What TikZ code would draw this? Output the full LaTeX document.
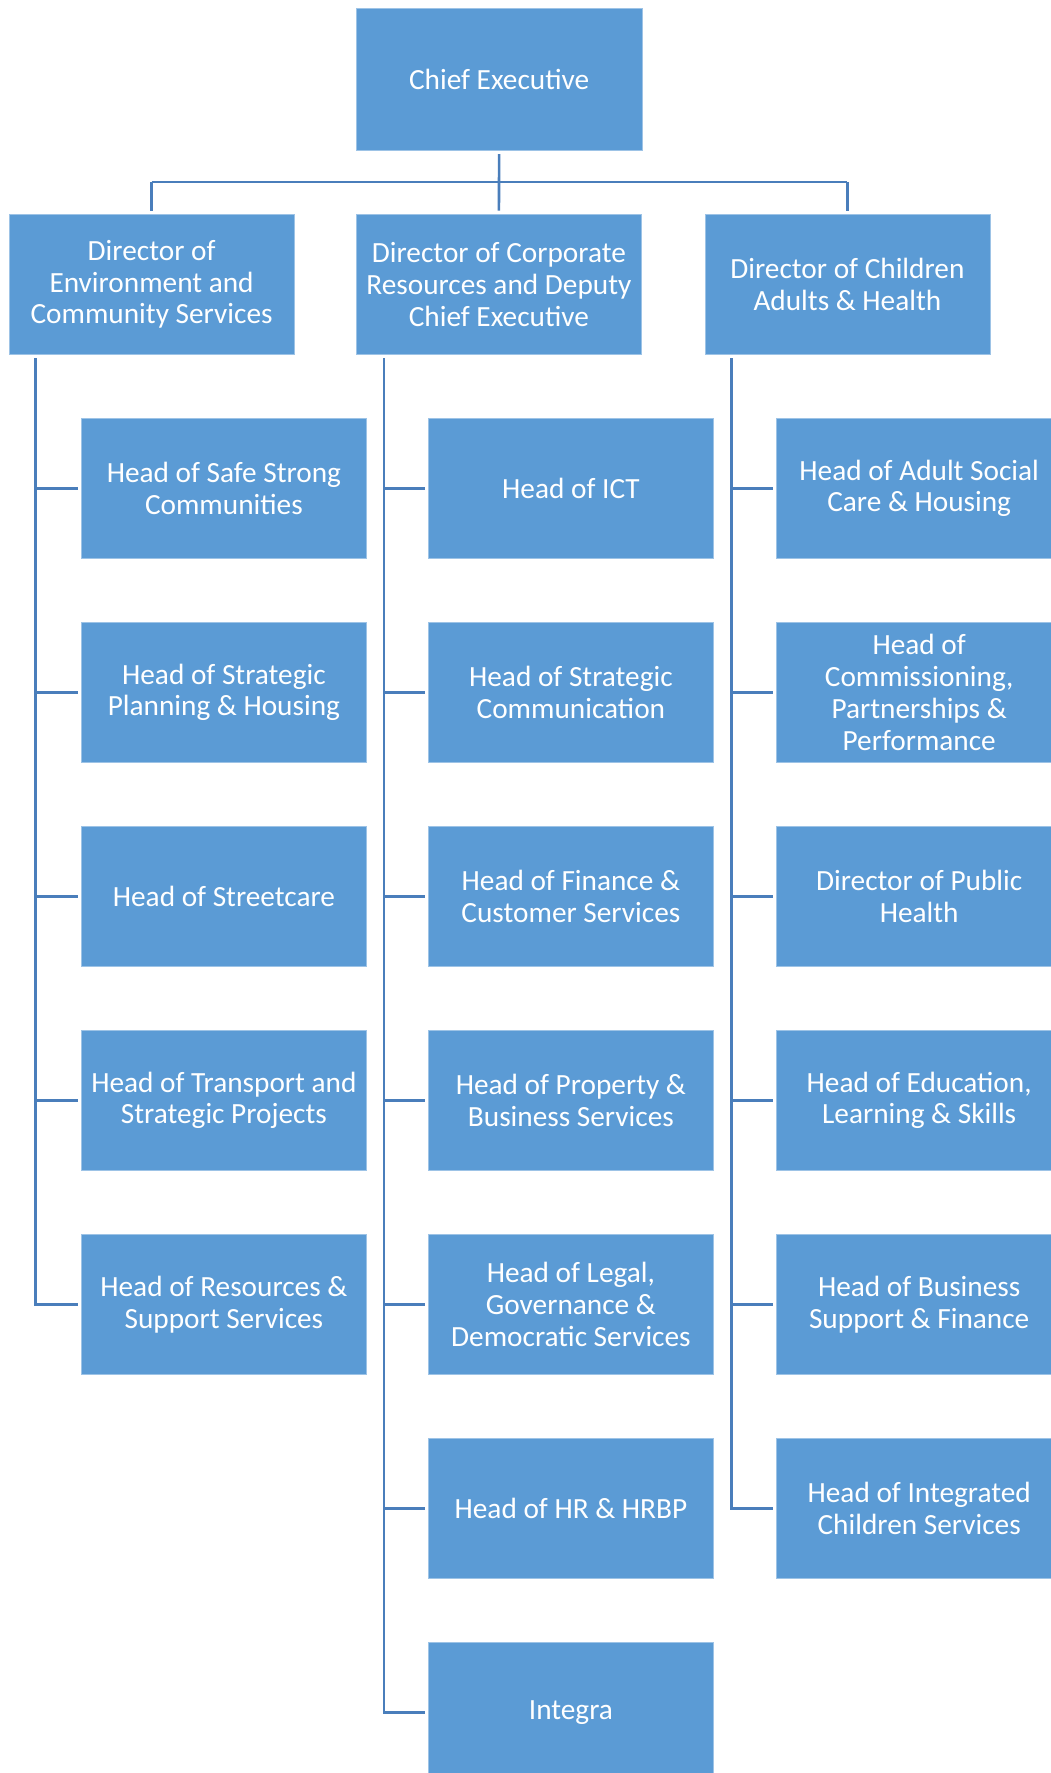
\documentclass[tikz,border=0pt]{standalone}
\usepackage{fontspec}
\setmainfont{Carlito}
\definecolor{boxfill}{HTML}{5B9BD5}
\definecolor{boxedge}{HTML}{9DC3E6}
\definecolor{linec}{HTML}{4A7EBB}
\begin{document}
\begin{tikzpicture}[x=1pt,y=-1pt,
  orgbox/.style={rectangle, anchor=north west, fill=boxfill, draw=boxedge, line width=0.8pt,
    minimum width=285pt, minimum height=140.6pt, inner sep=0pt, align=center,
    text=white, font=\fontsize{29.3}{31.8}\selectfont},
  conn/.style={draw=linec, line width=2.6pt}]
\clip (0,0) rectangle (1051,1773);
\fill[white] (0,0) rectangle (1051,1773);

% top
\node[orgbox, minimum width=285.5pt, minimum height=142pt] (ce) at (356,8.3) {Chief Executive};

% directors
\node[orgbox] (d1) at (8.7,213.7) {Director of\\Environment and\\Community Services};
\node[orgbox] (d2) at (356,213.7) {Director of Corporate\\Resources and Deputy\\Chief Executive};
\node[orgbox] (d3) at (704.5,213.7) {Director of Children\\Adults \& Health};

% left column
\node[orgbox] (a1) at (81,417.7) {Head of Safe Strong\\Communities};
\node[orgbox] (a2) at (81,621.7) {Head of Strategic\\Planning \& Housing};
\node[orgbox] (a3) at (81,825.7) {Head of Streetcare};
\node[orgbox] (a4) at (81,1029.7) {Head of Transport and\\Strategic Projects};
\node[orgbox] (a5) at (81,1233.7) {Head of Resources \&\\Support Services};

% middle column
\node[orgbox] (b1) at (428,417.7) {Head of ICT};
\node[orgbox] (b2) at (428,621.7) {Head of Strategic\\Communication};
\node[orgbox] (b3) at (428,825.7) {Head of Finance \&\\Customer Services};
\node[orgbox] (b4) at (428,1029.7) {Head of Property \&\\Business Services};
\node[orgbox] (b5) at (428,1233.7) {Head of Legal,\\Governance \&\\Democratic Services};
\node[orgbox] (b6) at (428,1437.7) {Head of HR \& HRBP};
\node[orgbox] (b7) at (428,1641.7) {Integra};

% right column
\node[orgbox] (c1) at (776.3,417.7) {Head of Adult Social\\Care \& Housing};
\node[orgbox] (c2) at (776.3,621.7) {Head of\\Commissioning,\\Partnerships \&\\Performance};
\node[orgbox] (c3) at (776.3,825.7) {Director of Public\\Health};
\node[orgbox] (c4) at (776.3,1029.7) {Head of Education,\\Learning \& Skills};
\node[orgbox] (c5) at (776.3,1233.7) {Head of Business\\Support \& Finance};
\node[orgbox] (c6) at (776.3,1437.7) {Head of Integrated\\Children Services};

% top connectors
\coordinate (bus) at (498.7,182);
\draw[conn, shorten <=3pt, shorten >=3pt] (ce.south) -- (d2.north);
\draw[conn] (bus -| d1.north) -- (bus -| d3.north);
\draw[conn, shorten >=3pt] (bus -| d1.north) -- (d1.north);
\draw[conn, shorten >=3pt] (bus -| d3.north) -- (d3.north);

% trunks
\coordinate (t1) at ([xshift=27pt,yshift=-3pt]d1.south west);
\coordinate (t2) at ([xshift=28pt,yshift=-3pt]d2.south west);
\coordinate (t3) at ([xshift=27pt,yshift=-3pt]d3.south west);

\draw[conn, shorten >=3pt] (t1) |- (a5.west);
\foreach \n in {a1,a2,a3,a4} \draw[conn, shorten >=3pt] (\n.west -| t1) -- (\n.west);
\draw[conn, shorten >=3pt] (t2) |- (b7.west);
\foreach \n in {b1,b2,b3,b4,b5,b6} \draw[conn, shorten >=3pt] (\n.west -| t2) -- (\n.west);
\draw[conn, shorten >=3pt] (t3) |- (c6.west);
\foreach \n in {c1,c2,c3,c4,c5} \draw[conn, shorten >=3pt] (\n.west -| t3) -- (\n.west);
\end{tikzpicture}
\end{document}
